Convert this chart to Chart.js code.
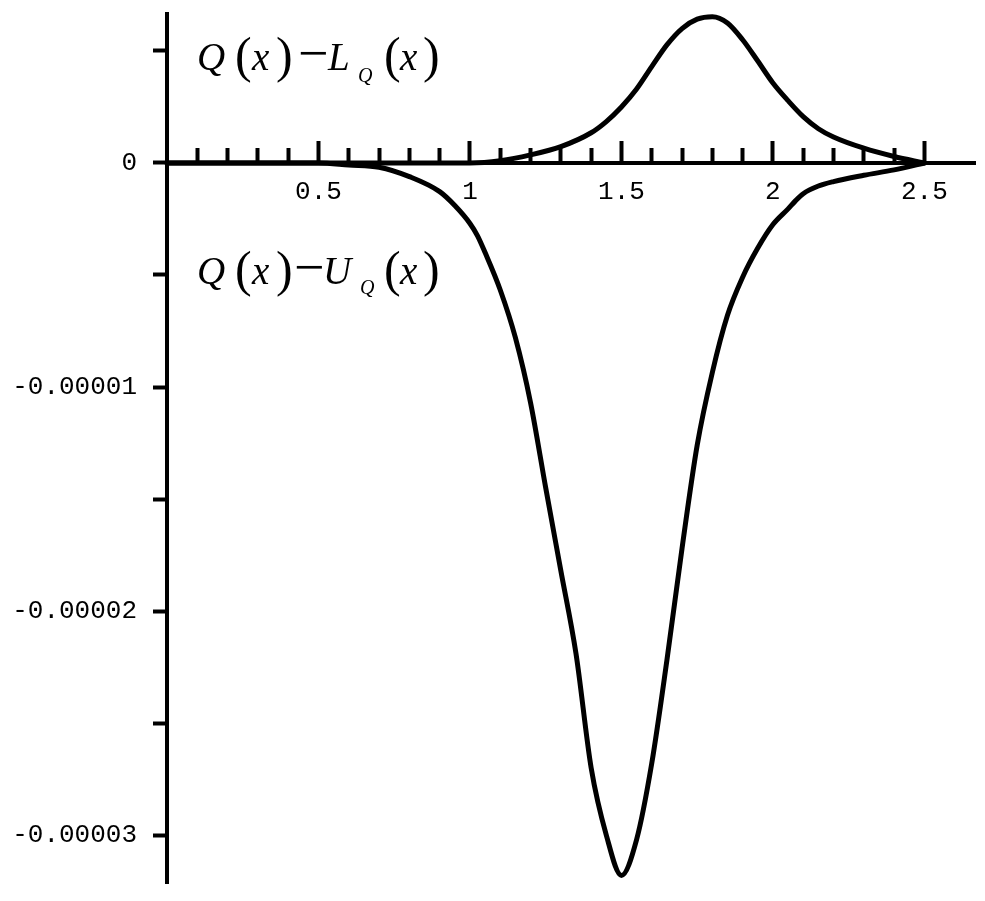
<!DOCTYPE html>
<html>
<head>
<meta charset="utf-8">
<script src="https://cdn.jsdelivr.net/npm/chart.js@4.4.1/dist/chart.umd.min.js"></script>
<style>
  html, body { margin: 0; padding: 0; background: #ffffff; }
  canvas { display: block; }
</style>
</head>
<body>
<canvas id="c" width="985" height="901"></canvas>
<script>
// ---- data ----
const xUpper = [0, 0.5, 1.0, 1.1, 1.2, 1.3, 1.4, 1.45, 1.5, 1.55, 1.6, 1.65, 1.7, 1.75, 1.8, 1.85, 1.9, 1.95, 2.0, 2.05, 2.1, 2.15, 2.2, 2.3, 2.4, 2.5];
const yUpper = [0, 0, 0, 0.01e-5, 0.036e-5, 0.073e-5, 0.135e-5, 0.185e-5, 0.25e-5, 0.33e-5, 0.43e-5, 0.527e-5, 0.60e-5, 0.642e-5, 0.653e-5, 0.625e-5, 0.55e-5, 0.455e-5, 0.357e-5, 0.278e-5, 0.207e-5, 0.153e-5, 0.116e-5, 0.066e-5, 0.029e-5, 0];

const xLower = [0, 0.5, 0.6, 0.7, 0.8, 0.9, 0.95, 1.0, 1.025, 1.05, 1.1, 1.15, 1.2, 1.25, 1.3, 1.35, 1.4, 1.45, 1.5, 1.55, 1.6, 1.65, 1.7, 1.75, 1.8, 1.85, 1.9, 1.95, 2.0, 2.05, 2.075, 2.1, 2.15, 2.2, 2.3, 2.4, 2.5];
const yLower = [0, 0, -0.009e-5, -0.019e-5, -0.061e-5, -0.128e-5, -0.19e-5, -0.27e-5, -0.325e-5, -0.40e-5, -0.567e-5, -0.78e-5, -1.07e-5, -1.45e-5, -1.82e-5, -2.19e-5, -2.70e-5, -3.0e-5, -3.18e-5, -3.02e-5, -2.68e-5, -2.22e-5, -1.72e-5, -1.26e-5, -0.935e-5, -0.68e-5, -0.51e-5, -0.38e-5, -0.275e-5, -0.205e-5, -0.168e-5, -0.137e-5, -0.103e-5, -0.083e-5, -0.055e-5, -0.031e-5, 0];

const xMajorTicks = [0.5, 1, 1.5, 2, 2.5];
const xMajorLabels = ['0.5', '1', '1.5', '2', '2.5'];
const xMinorTicks = [0.1, 0.2, 0.3, 0.4, 0.6, 0.7, 0.8, 0.9, 1.1, 1.2, 1.3, 1.4, 1.6, 1.7, 1.8, 1.9, 2.1, 2.2, 2.3, 2.4];
const yTicks = [0.5e-5, 0, -0.5e-5, -1e-5, -1.5e-5, -2e-5, -2.5e-5, -3e-5];
const yTickLabels = ['', '0', '', '-0.00001', '', '-0.00002', '', '-0.00003'];

const curveLabels = [
  { name: 'Q(x)-L_Q(x)', letter: 'L' },
  { name: 'Q(x)-U_Q(x)', letter: 'U' }
];

// ---- build ----
const toPts = (xs, ys) => xs.map((x, i) => ({ x: x, y: ys[i] }));
const tickFont = { family: 'Liberation Mono', size: 26 };
const zeroPad = s => { s.paddingTop = 0; s.paddingBottom = 0; s.paddingLeft = 0; s.paddingRight = 0; };

const annotPlugin = {
  id: 'annot',
  afterDraw(chart, args, opts) {
    const ctx = chart.ctx;
    const xs = chart.scales.x, ys = chart.scales.y;
    ctx.save();
    ctx.fillStyle = '#000';
    ctx.textBaseline = 'alphabetic';
    ctx.textAlign = 'left';
    opts.items.forEach((it, k) => {
      const ax = xs.getPixelForValue(it.x);
      const ay = ys.getPixelForValue(it.y);
      const L = curveLabels[k].letter;
      const segs = [
        { t: 'Q', f: 'italic 39px "Liberation Serif"', dx: -2, dy: 0 },
        { t: '(', f: '50px "Liberation Serif"', dx: 36, dy: 2 },
        { t: 'x', f: 'italic 39px "Liberation Serif"', dx: 53, dy: 0 },
        { t: ')', f: '50px "Liberation Serif"', dx: 77, dy: 2 },
        { t: '\u2212', f: '54px "Liberation Serif"', dx: it.minusDx, dy: 1 },
        { t: L, f: 'italic 39px "Liberation Serif"', dx: it.letterDx, dy: 0 },
        { t: 'Q', f: 'italic 20px "Liberation Serif"', dx: it.subDx, dy: it.subDy },
        { t: '(', f: '50px "Liberation Serif"', dx: 185, dy: 2 },
        { t: 'x', f: 'italic 39px "Liberation Serif"', dx: 201, dy: 0 },
        { t: ')', f: '50px "Liberation Serif"', dx: 224, dy: 2 }
      ];
      segs.forEach(s => {
        ctx.font = s.f;
        ctx.fillText(s.t, ax + s.dx, ay + s.dy);
      });
    });
    ctx.restore();
  }
};

new Chart(document.getElementById('c'), {
  type: 'line',
  data: {
    datasets: [
      { label: curveLabels[0].name, data: toPts(xUpper, yUpper) },
      { label: curveLabels[1].name, data: toPts(xLower, yLower) }
    ]
  },
  options: {
    responsive: false,
    animation: false,
    devicePixelRatio: 1,
    layout: { padding: { left: 0, right: 10, top: 14, bottom: 18 } },
    elements: {
      line: { borderColor: '#000', borderWidth: 5, cubicInterpolationMode: 'monotone', fill: false, borderJoinStyle: 'round', borderCapStyle: 'round' },
      point: { radius: 0, hoverRadius: 0 }
    },
    datasets: { line: { clip: false } },
    plugins: {
      legend: { display: false },
      tooltip: { enabled: false },
      annot: {
        items: [
          { x: 0.1056, y: 0.415e-5, minusDx: 99, letterDx: 129, subDx: 159, subDy: 12 },
          { x: 0.1056, y: -0.54e-5, minusDx: 95, letterDx: 124, subDx: 161, subDy: 10 }
        ]
      }
    },
    scales: {
      y: {
        type: 'linear',
        position: 'left',
        min: -3.214e-5,
        max: 0.665e-5,
        afterFit: s => { s.width = 167; zeroPad(s); },
        afterBuildTicks: s => { s.ticks = yTicks.map(v => ({ value: v })); },
        grid: { display: true, drawOnChartArea: false, drawTicks: true, tickLength: 14, tickWidth: 4, tickColor: '#000' },
        border: { display: true, width: 4, color: '#000' },
        ticks: { autoSkip: false, padding: 16, color: '#000', font: tickFont, callback: (v, i) => yTickLabels[i] }
      },
      x: {
        type: 'linear',
        position: { y: 0 },
        min: 0,
        max: 2.667,
        afterFit: s => { s.height = 0; zeroPad(s); },
        afterBuildTicks: s => { s.ticks = xMajorTicks.map(v => ({ value: v })); },
        grid: { display: true, drawOnChartArea: false, drawTicks: true, tickLength: -24, tickWidth: 4, tickColor: '#000' },
        border: { display: true, width: 4, color: '#000' },
        ticks: { autoSkip: false, maxRotation: 0, minRotation: 0, padding: 38, color: '#000', font: tickFont, callback: (v, i) => xMajorLabels[i] }
      },
      xMinor: {
        type: 'linear',
        axis: 'x',
        position: { y: 0 },
        min: 0,
        max: 2.667,
        afterFit: s => { s.height = 0; zeroPad(s); },
        afterBuildTicks: s => { s.ticks = xMinorTicks.map(v => ({ value: v })); },
        grid: { display: true, drawOnChartArea: false, drawTicks: true, tickLength: -17, tickWidth: 4, tickColor: '#000' },
        border: { display: true, width: 4, color: '#000' },
        ticks: { display: false }
      }
    }
  },
  plugins: [annotPlugin]
});
</script>
</body>
</html>
